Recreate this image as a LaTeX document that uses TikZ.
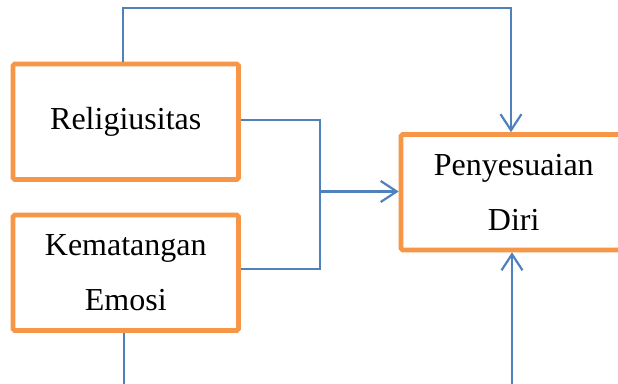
\documentclass[tikz,border=0pt]{standalone}
\usepackage{fontspec}
\setmainfont{Liberation Serif}
\usetikzlibrary{arrows.meta}
\definecolor{boxorange}{HTML}{F79646}
\definecolor{lineblue}{HTML}{4F81BD}
\tikzset{
  varbox/.style={draw=boxorange, line width=2.3pt, rounded corners=0.8pt, fill=white,
    minimum width=112.75pt, minimum height=57.75pt, align=center, inner sep=0pt,
    font=\fontsize{16}{27.5}\selectfont},
  link/.style={draw=lineblue, line width=1pt},
  tip/.style={-{Straight Barb[length=8pt,width=10.5pt,line width=1.1pt]}}
}
\begin{document}
\begin{tikzpicture}[x=0.5pt,y=-0.5pt]
    \useasboundingbox (0,0) rectangle (618,384);
    % variables
    \node[varbox] (rel) at (125.75,121.75) {Religiusitas};
    \node[varbox] (kem) at (125.75,272.75) {Kematangan\\Emosi};
    \node[varbox] (pd) at (513.75,192.25) {Penyesuaian\\Diri};
    % helper points
    \coordinate (top) at (123,8.5);
    \coordinate (join) at (320,191.5);
    \coordinate (kemend) at (124.3,384);
    \coordinate (pdend) at (512,384);
    % connectors
    \draw[link, tip] (rel.north -| top) -- (top) -| (pd.north -| 511,0);
    \draw[link] (rel.east |- 0,120) -| (join);
    \draw[link] (kem.east |- 0,269.3) -| (join);
    \draw[link, tip, line width=1.6pt] (join) -- (pd.west |- join);
    \draw[link] (kem.south -| kemend) -- (kemend);
    \draw[link, tip] (pdend) -- (pd.south -| pdend);
\end{tikzpicture}
\end{document}
